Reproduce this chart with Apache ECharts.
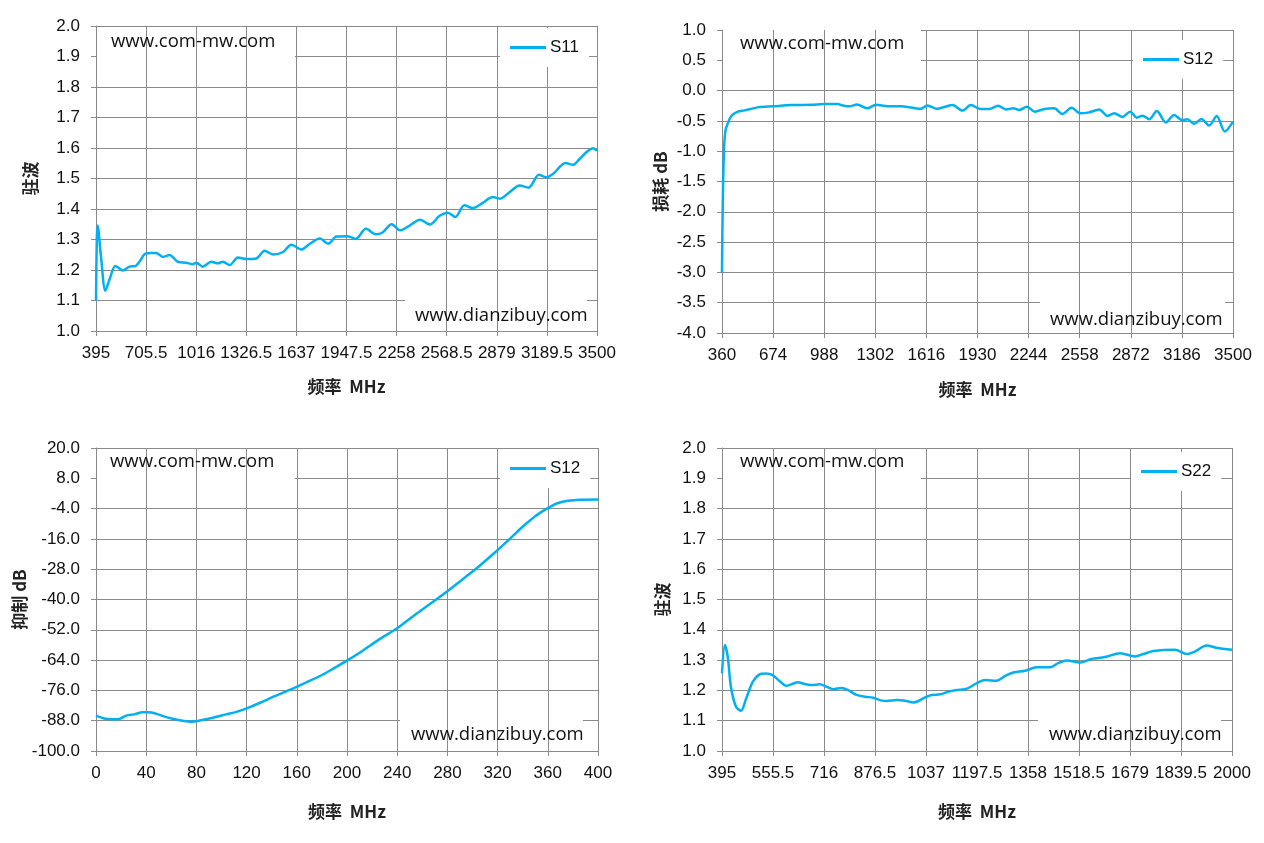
<!DOCTYPE html>
<html>
<head>
<meta charset="utf-8">
<script src="https://cdn.jsdelivr.net/npm/echarts@6/dist/echarts.min.js"></script>
<style>
  html, body { margin: 0; padding: 0; background: #fff; }
  #main { width: 1264px; height: 843px; }
</style>
</head>
<body>
<div id="main"></div>
<script>
// S11 VSWR (top left)
var s11Freq = [395,400,405,426,453,478,515,540,561,602,639,664,701,737,768,809,851,902,954,995,
  1016,1057,1109,1150,1182,1223,1275,1327,1389,1440,1492,1554,1606,1668,1720,1782,1834,1885,1954,2005,
  2068,2130,2171,2227,2279,2337,2403,2465,2523,2575,2622,2678,2730,2792,2854,2900,2958,3020,3076,3140,
  3185,3227,3305,3351,3392,3434,3475,3500];
var s11Vswr = [1.10,1.30,1.346,1.243,1.132,1.168,1.213,1.205,1.198,1.211,1.213,1.227,1.254,1.256,1.256,1.243,1.249,1.227,1.224,1.219,
  1.224,1.211,1.227,1.222,1.227,1.216,1.241,1.236,1.238,1.263,1.251,1.259,1.283,1.267,1.286,1.303,1.286,1.310,1.311,1.302,
  1.335,1.317,1.323,1.350,1.330,1.345,1.365,1.349,1.377,1.388,1.374,1.412,1.403,1.420,1.439,1.434,1.455,1.477,1.470,1.512,
  1.504,1.515,1.551,1.545,1.564,1.586,1.599,1.591];

// S12 insertion loss (top right)
var lossFreq = [360,362,367,372,376,382,393,417,454,499,581,674,785,908,990,1071,1102,1143,1190,1251,
  1307,1378,1460,1531,1582,1623,1680,1725,1777,1838,1889,1950,2002,2057,2104,2151,2186,2233,2282,2340,
  2401,2452,2508,2561,2616,2678,2729,2770,2821,2868,2909,2944,2985,3032,3087,3138,3189,3220,3261,3306,
  3353,3400,3449,3500];
var lossDb = [-3.0,-2.4,-1.5,-1.0,-0.8,-0.65,-0.56,-0.42,-0.35,-0.326,-0.277,-0.26,-0.239,-0.234,-0.223,-0.223,-0.245,-0.26,-0.228,-0.293,
  -0.234,-0.26,-0.26,-0.283,-0.30,-0.245,-0.30,-0.272,-0.239,-0.33,-0.239,-0.304,-0.304,-0.25,-0.31,-0.293,-0.32,-0.266,-0.348,-0.304,
  -0.293,-0.386,-0.283,-0.375,-0.359,-0.31,-0.418,-0.375,-0.435,-0.348,-0.446,-0.413,-0.473,-0.337,-0.527,-0.402,-0.489,-0.473,-0.549,-0.467,
  -0.576,-0.418,-0.674,-0.511];

// S12 rejection (bottom left)
var rejFreq = [0,6.4,12.9,18.6,24.1,30.5,37,41.8,48.2,54.7,61.1,69.1,76.5,83.6,93.2,102.9,112.5,120.6,131.8,141.5,
  154.3,167.2,180.1,189.7,200,212.2,225.1,239.9,254,266.9,279.7,292.6,305.5,320.3,331.2,340.8,350.5,360,368.2,376.2,
  385.9,400];
var rejDb = [-86.0,-87.1,-87.4,-87.3,-86.0,-85.5,-84.7,-84.7,-85.3,-86.4,-87.2,-88.0,-88.4,-87.8,-86.8,-85.6,-84.4,-83.0,-80.7,-78.5,
  -75.8,-72.9,-69.9,-67.2,-64.2,-60.4,-56.0,-51.4,-46.1,-41.5,-36.8,-31.8,-26.7,-20.3,-15.3,-10.8,-6.8,-3.8,-1.8,-0.9,
  -0.5,-0.4];

// S22 VSWR (bottom right)
var s22Freq = [395,404,413,423,439,455,471,492,513,534,553,576,597,613,634,655,676,703,724,745,
  771,792,818,845,871,892,913,945,971,997,1013,1034,1055,1082,1108,1134,1166,1197,1223,1259,
  1286,1312,1349,1385,1427,1453,1480,1522,1558,1600,1648,1695,1721,1753,1821,1857,1883,1920,1951,2000];
var s22Vswr = [1.256,1.350,1.312,1.212,1.146,1.133,1.173,1.229,1.253,1.256,1.251,1.231,1.215,1.220,1.227,1.221,1.218,1.220,1.212,1.204,
  1.208,1.201,1.185,1.179,1.176,1.168,1.165,1.168,1.166,1.160,1.165,1.177,1.185,1.187,1.196,1.201,1.206,1.224,1.234,1.232,
  1.248,1.259,1.265,1.276,1.276,1.290,1.299,1.292,1.304,1.310,1.323,1.312,1.320,1.330,1.334,1.320,1.328,1.348,1.341,1.334];

// tick labels
var xTicks1 = [395,705.5,1016,1326.5,1637,1947.5,2258,2568.5,2879,3189.5,3500];
var xTicks2 = [360,674,988,1302,1616,1930,2244,2558,2872,3186,3500];
var xTicks3 = [0,40,80,120,160,200,240,280,320,360,400];
var xTicks4 = [395,555.5,716,876.5,1037,1197.5,1358,1518.5,1679,1839.5,2000];
var yTicks3 = [-100,-88,-76,-64,-52,-40,-28,-16,-4,8,20];

const chart = echarts.init(document.getElementById('main'));

var LINE = '#00B0F0';
var GRID = '#8a8a8a';
var numFont = "'Liberation Sans', Arial, sans-serif";
var cjkFont = "'Noto Sans CJK SC', sans-serif";

function zip(a, b) {
    return a.map(function (v, i) { return [v, b[i]]; });
}

function xAxis(idx, min, max, ticks, gap) {
    return {
        type: 'value',
        gridIndex: idx,
        min: min,
        max: max,
        z: 3,
        name: '频率  MHz',
        nameLocation: 'middle',
        nameGap: gap,
        nameTextStyle: { fontFamily: cjkFont, fontWeight: 'bold', fontSize: 17, color: '#222' },
        axisLine: { onZero: false, lineStyle: { color: GRID, width: 1 } },
        axisTick: { show: true, length: 5, lineStyle: { color: GRID }, customValues: ticks },
        axisLabel: {
            customValues: ticks,
            margin: 14,
            color: '#111',
            fontSize: 17,
            fontFamily: numFont,
            formatter: function (v) { return String(v); }
        },
        splitLine: { show: true, lineStyle: { color: GRID, width: 1 } }
    };
}

function yAxis(idx, min, max, interval, name, gap, custom) {
    var ax = {
        type: 'value',
        gridIndex: idx,
        min: min,
        max: max,
        z: 1,
        name: name,
        nameLocation: 'middle',
        nameGap: gap,
        nameTextStyle: { fontFamily: cjkFont, fontWeight: 'bold', fontSize: 17, color: '#222' },
        axisLine: { show: true, onZero: false, lineStyle: { color: GRID, width: 1 } },
        axisTick: { show: true, length: 5, lineStyle: { color: GRID } },
        axisLabel: {
            margin: 16,
            color: '#111',
            fontSize: 17,
            fontFamily: numFont,
            formatter: function (v) { return v.toFixed(1); }
        },
        splitLine: { show: true, lineStyle: { color: GRID, width: 1 } }
    };
    if (custom) {
        ax.axisTick.customValues = custom;
        ax.axisLabel.customValues = custom;
    } else {
        ax.interval = interval;
    }
    return ax;
}

function series(name, idx, data) {
    return {
        name: name,
        type: 'line',
        xAxisIndex: idx,
        yAxisIndex: idx,
        data: data,
        z: 5,
        symbol: 'none',
        showSymbol: false,
        smooth: 0.3,
        lineStyle: { color: LINE, width: 2.5 },
        itemStyle: { color: LINE }
    };
}

function legend(name, left, top) {
    return {
        data: [name],
        left: left,
        top: top,
        z: 7,
        orient: 'horizontal',
        backgroundColor: '#fff',
        padding: [11, 10],
        icon: 'rect',
        itemWidth: 36,
        itemHeight: 3,
        itemGap: 0,
        selectedMode: false,
        textStyle: { fontSize: 17, fontFamily: numFont, color: '#111', padding: [0, 0, 0, -1] }
    };
}

function mark(text, x, y) {
    return {
        type: 'text',
        x: x,
        y: y,
        z: 6,
        silent: true,
        style: { text: text, fill: '#111', font: "18.5px 'Open Sans', sans-serif", verticalAlign: 'middle' }
    };
}

function cover(x, y, w, h) {
    return {
        type: 'rect',
        z: 2,
        silent: true,
        shape: { x: x, y: y, width: w, height: h },
        style: { fill: '#fff' }
    };
}

chart.setOption({
    animation: false,
    grid: [
        { left: 96, top: 26, width: 501, height: 305 },
        { left: 722, top: 30, width: 511, height: 303 },
        { left: 96, top: 448, width: 502, height: 303 },
        { left: 722, top: 448, width: 510, height: 303 }
    ],
    xAxis: [
        xAxis(0, 395, 3500, xTicks1, 47),
        xAxis(1, 360, 3500, xTicks2, 48),
        xAxis(2, 0, 400, xTicks3, 52),
        xAxis(3, 395, 2000, xTicks4, 52)
    ],
    yAxis: [
        yAxis(0, 1.0, 2.0, 0.1, '驻波', 57),
        yAxis(1, -4.0, 1.0, 0.5, '损耗 dB', 53),
        yAxis(2, -100, 20, 12, '抑制 dB', 59, yTicks3),
        yAxis(3, 1.0, 2.0, 0.1, '驻波', 51)
    ],
    legend: [
        legend('S11', 500, 28),
        legend('S12', 1133, 40),
        legend('S12', 500, 449),
        legend('S22', 1131, 452)
    ],
    graphic: [
        cover(97, 28, 198, 33), cover(405, 294, 182, 34),
        cover(723, 30, 198, 35), cover(1040, 300, 185, 32),
        cover(97, 449, 198, 33), cover(400, 716, 183, 34),
        cover(723, 449, 198, 33), cover(1038, 716, 183, 34),
        mark('www.com-mw.com', 111, 42), mark('www.dianzibuy.com', 415, 316),
        mark('www.com-mw.com', 740, 44), mark('www.dianzibuy.com', 1050, 320),
        mark('www.com-mw.com', 110, 462), mark('www.dianzibuy.com', 411, 735),
        mark('www.com-mw.com', 740, 462), mark('www.dianzibuy.com', 1049, 735)
    ],
    series: [
        series('S11', 0, zip(s11Freq, s11Vswr)),
        series('S12', 1, zip(lossFreq, lossDb)),
        series('S12', 2, zip(rejFreq, rejDb)),
        series('S22', 3, zip(s22Freq, s22Vswr))
    ]
});
</script>
</body>
</html>
